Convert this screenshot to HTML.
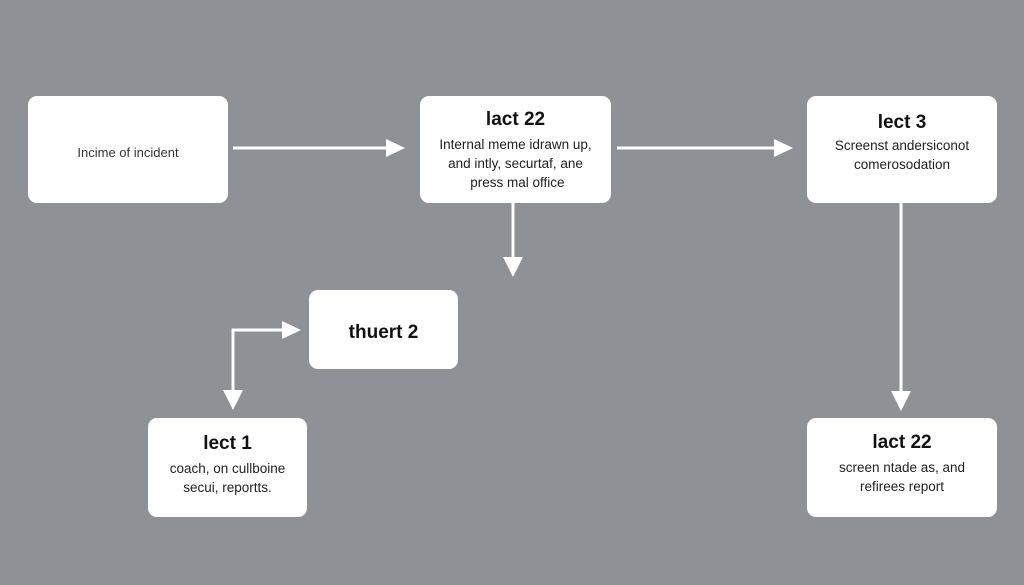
<!DOCTYPE html>
<html><head><style>
body{margin:0;width:1024px;height:585px;background:#8e9196;position:relative;overflow:hidden;font-family:"Liberation Sans",sans-serif;}
.b{position:absolute;background:#fff;border-radius:9px;text-align:center;color:#222;}
.t{font-weight:bold;font-size:19px;color:#111;}
.s{font-size:13.5px;line-height:19px;color:#222;}
</style></head><body>
<svg width="1024" height="585" style="position:absolute;left:0;top:0">
<g stroke="#fff" stroke-width="3" fill="none">
<line x1="233" y1="148" x2="388" y2="148"/>
<line x1="617" y1="148" x2="776" y2="148"/>
<line x1="513" y1="203" x2="513" y2="260"/>
<line x1="901" y1="203" x2="901" y2="394"/>
<polyline points="233,392 233,330 284,330"/>
</g>
<g fill="#fff">
<polygon points="386,139 405,148 386,157"/>
<polygon points="774,139 793,148 774,157"/>
<polygon points="503,257 523,257 513,277"/>
<polygon points="891,391 911,391 901,411"/>
<polygon points="223,390 243,390 233,410"/>
<polygon points="282,321 301,330 282,339"/>
</g>
</svg>
<div class="b" style="left:28px;top:96px;width:200px;height:107px;"><div class="s" style="margin-top:47px;font-size:13px;color:#333">Incime of incident</div></div>
<div class="b" style="left:420px;top:96px;width:191px;height:107px;"><div class="t" style="margin-top:13px">lact 22</div><div class="s" style="margin-top:4px">Internal meme idrawn up,<br>and intly, securtaf, ane<br>&nbsp;press mal office</div></div>
<div class="b" style="left:807px;top:96px;width:190px;height:107px;"><div class="t" style="margin-top:16px">lect 3</div><div class="s" style="margin-top:2px">Screenst andersiconot<br>comerosodation</div></div>
<div class="b" style="left:309px;top:290px;width:149px;height:79px;"><div class="t" style="margin-top:32px">thuert 2</div></div>
<div class="b" style="left:148px;top:418px;width:159px;height:99px;"><div class="t" style="margin-top:15px">lect 1</div><div class="s" style="margin-top:4px">coach, on cullboine<br>secui, reportts.</div></div>
<div class="b" style="left:807px;top:418px;width:190px;height:99px;"><div class="t" style="margin-top:14px">lact 22</div><div class="s" style="margin-top:4px">screen ntade as, and<br>refirees report</div></div>
</body></html>
